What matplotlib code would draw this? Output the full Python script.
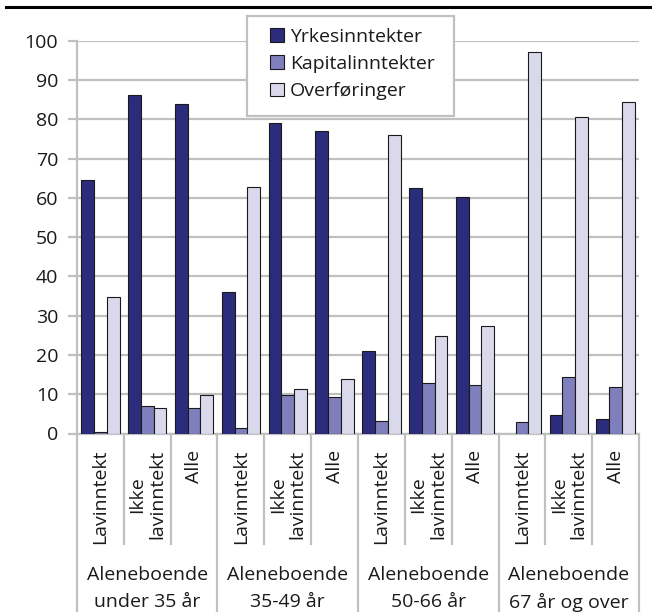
import numpy as np
import matplotlib.pyplot as plt
from matplotlib.lines import Line2D
from matplotlib.patches import Rectangle

plt.rcParams['font.family'] = ['Open Sans', 'DejaVu Sans']

groups = ['Aleneboende\nunder 35 år', 'Aleneboende\n35-49 år',
          'Aleneboende\n50-66 år', 'Aleneboende\n67 år og over']
categories = ['Lavinntekt', 'Ikke\nlavinntekt', 'Alle']
series = ['Yrkesinntekter', 'Kapitalinntekter', 'Overføringer']
yrkes = [64.6, 86.3, 83.8, 35.9, 79.1, 77.0, 21.0, 62.5, 60.2, 0.0, 4.8, 3.7]
kapital = [0.4, 7.1, 6.4, 1.4, 9.7, 9.2, 3.1, 12.9, 12.3, 2.9, 14.5, 11.8]
overf = [34.7, 6.6, 9.9, 62.7, 11.3, 13.8, 75.9, 24.7, 27.4, 97.1, 80.7, 84.5]
y_ticks = list(range(0, 101, 10))

colors = ['#2B2D7C', '#7F7FBD', '#DAD9EC']
grid_col = '#C0C0C0'
txt_col = '#1A1A1A'
fs = 14

W, H = 652, 612
y0_px, y100_px = 433.5, 40.7
px_per_unit = (y0_px - y100_px) / 100


def ypx(p):
    # pixel row -> data value (for things drawn below the axis)
    return (y0_px - p) / px_per_unit


fig = plt.figure(figsize=(W / 100, H / 100), dpi=100)
ax = fig.add_axes([77 / W, 1 - y0_px / H, (639 - 77) / W, (y0_px - y100_px) / H])

n = len(yrkes)
x = np.arange(n)
bw = 0.273
for i, (vals, col) in enumerate(zip([yrkes, kapital, overf], colors)):
    v = np.array(vals, dtype=float)
    v = np.where(v > 0, v, np.nan)
    ax.bar(x + (i - 1) * bw, v, bw, color=col, edgecolor=txt_col,
           linewidth=0.8, label=series[i], zorder=3)

ax.set_xlim(-0.5, n - 0.5)
ax.set_ylim(0, 100)
ax.set_yticks(y_ticks)
ax.set_xticks([])
ax.yaxis.grid(True, color=grid_col, linewidth=1.6, zorder=0)
ax.set_axisbelow(True)
for s in ['top', 'right']:
    ax.spines[s].set_visible(False)
for s in ['left', 'bottom']:
    ax.spines[s].set_color(grid_col)
    ax.spines[s].set_linewidth(1.6)
ax.tick_params(axis='y', length=6.5, width=1.6, color=grid_col, pad=7,
               labelsize=fs, labelcolor=txt_col)

# category / group separators below the axis
for k in range(n + 1):
    bottom = ypx(612) if k % 3 == 0 else ypx(544)
    ax.add_line(Line2D([k - 0.5, k - 0.5], [0, bottom], color=grid_col,
                       linewidth=1.6, clip_on=False))

for k in range(n):
    ax.text(k, ypx(450), categories[k % 3], rotation=90, ha='center', va='top',
            multialignment='center', fontsize=fs, color=txt_col,
            linespacing=1.1)

for g, lab in enumerate(groups):
    l1, l2 = lab.split('\n')
    xc = g * 3 + 1
    ax.text(xc, ypx(575), l1, ha='center', va='center', fontsize=fs, color=txt_col)
    ax.text(xc, ypx(602), l2, ha='center', va='center', fontsize=fs, color=txt_col)

# black rule at the top
fig.add_artist(Line2D([6 / W, 1], [1 - 7 / H, 1 - 7 / H], color='black',
                      linewidth=2.2, transform=fig.transFigure))

# legend box
fig.add_artist(Rectangle((247 / W, 1 - 116 / H), (454 - 247) / W, 100 / H,
                         transform=fig.transFigure, facecolor='white',
                         edgecolor=grid_col, linewidth=1.6, zorder=4))
leg = fig.legend(loc='upper left', bbox_to_anchor=(270 / W, 1 - 28 / H),
                 fontsize=fs, frameon=False, handlelength=0.72,
                 handleheight=0.72, handletextpad=0.3, labelspacing=0.47,
                 borderpad=0, borderaxespad=0)
leg.set_zorder(5)
for t in leg.get_texts():
    t.set_color(txt_col)

fig.savefig('out.png', dpi=100)
